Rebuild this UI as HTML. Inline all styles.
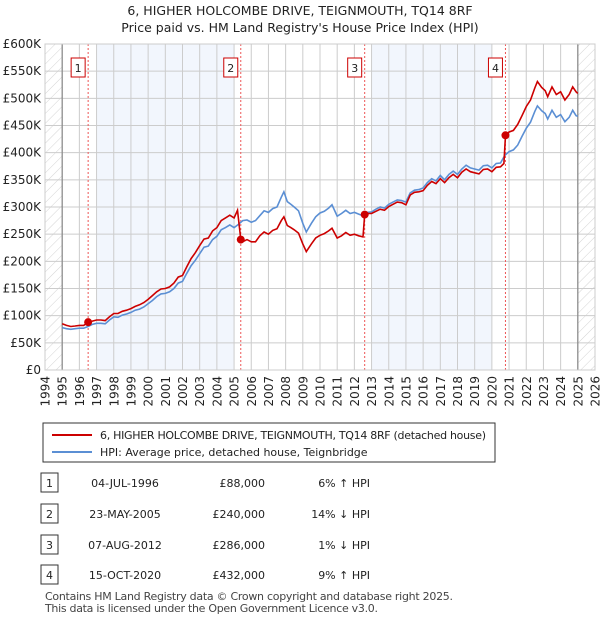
<!DOCTYPE html>
<html><head><meta charset="utf-8"><style>
body{margin:0;background:#fff;font-family:"DejaVu Sans","Liberation Sans",sans-serif;}
#wrap{position:relative;width:600px;height:620px;overflow:hidden;}
</style></head><body>
<div id="wrap">
<svg id="chart" width="600" height="620" viewBox="0 0 600 620" font-family="DejaVu Sans, Liberation Sans, sans-serif">
<defs><pattern id="hatch" width="7" height="7" patternUnits="userSpaceOnUse" patternTransform="rotate(45)"><line x1="0" y1="0" x2="0" y2="7" stroke="#d4d4d4" stroke-width="1"/></pattern></defs>
<text x="300" y="15" text-anchor="middle" font-size="12.5" fill="#222">6, HIGHER HOLCOMBE DRIVE, TEIGNMOUTH, TQ14 8RF</text>
<text x="300" y="32" text-anchor="middle" font-size="12.5" fill="#222">Price paid vs. HM Land Registry's House Price Index (HPI)</text>
<g id="plot"></g>
<rect x="43" y="423" width="452" height="39" fill="#fff" stroke="#333"/>
<line x1="52" y1="435" x2="92" y2="435" stroke="#cc0000" stroke-width="2"/>
<text x="100" y="439" font-size="11" fill="#222" textLength="386">6, HIGHER HOLCOMBE DRIVE, TEIGNMOUTH, TQ14 8RF (detached house)</text>
<line x1="52" y1="452" x2="92" y2="452" stroke="#5b8fd4" stroke-width="2"/>
<text x="100" y="456" font-size="11" fill="#222">HPI: Average price, detached house, Teignbridge</text>
<g id="table"></g>
<text x="45" y="600" font-size="11" fill="#444" textLength="408">Contains HM Land Registry data © Crown copyright and database right 2025.</text>
<text x="45" y="612" font-size="11" fill="#444" textLength="333">This data is licensed under the Open Government Licence v3.0.</text>
</svg>
</div>
<script>
const hpiYears=[1995.0,1995.25,1995.5,1995.75,1996.0,1996.25,1996.5,1996.75,1997.0,1997.25,1997.5,1997.75,1998.0,1998.25,1998.5,1998.75,1999.0,1999.25,1999.5,1999.75,2000.0,2000.25,2000.5,2000.75,2001.0,2001.25,2001.5,2001.75,2002.0,2002.25,2002.5,2002.75,2003.0,2003.25,2003.5,2003.75,2004.0,2004.25,2004.5,2004.75,2005.0,2005.25,2005.5,2005.75,2006.0,2006.25,2006.5,2006.75,2007.0,2007.25,2007.5,2007.75,2007.9,2008.1,2008.3,2008.5,2008.75,2009.0,2009.2,2009.5,2009.75,2010.0,2010.25,2010.5,2010.7,2011.0,2011.25,2011.5,2011.75,2012.0,2012.25,2012.5,2012.75,2013.0,2013.25,2013.5,2013.75,2014.0,2014.25,2014.5,2014.75,2015.0,2015.25,2015.5,2015.75,2016.0,2016.25,2016.5,2016.75,2017.0,2017.25,2017.5,2017.75,2018.0,2018.25,2018.5,2018.75,2019.0,2019.25,2019.5,2019.75,2020.0,2020.25,2020.5,2020.75,2021.0,2021.25,2021.5,2021.75,2022.0,2022.25,2022.5,2022.65,2022.9,2023.1,2023.25,2023.5,2023.75,2024.0,2024.25,2024.5,2024.7,2024.9,2025.0];
const hpiValues=[78,76,75,76,77,77,80,84,86,86,85,92,98,97,101,103,106,110,112,116,122,128,135,140,141,144,150,160,163,178,192,202,214,226,228,240,246,258,262,267,262,268,275,276,272,275,284,293,290,297,300,318,328,310,305,300,293,270,254,270,282,289,292,298,304,283,288,294,288,290,287,284,290,291,296,300,298,305,309,313,312,309,326,331,332,335,345,352,348,358,350,360,366,360,370,377,372,370,368,376,377,372,380,381,395,402,405,414,430,445,456,476,486,477,472,462,478,465,470,457,465,478,468,467];
const priceYears=[1995.0,1995.25,1995.5,1995.75,1996.0,1996.25,1996.5,1996.75,1997.0,1997.25,1997.5,1997.75,1998.0,1998.25,1998.5,1998.75,1999.0,1999.25,1999.5,1999.75,2000.0,2000.25,2000.5,2000.75,2001.0,2001.25,2001.5,2001.75,2002.0,2002.25,2002.5,2002.75,2003.0,2003.25,2003.5,2003.75,2004.0,2004.25,2004.5,2004.75,2005.0,2005.2,2005.39,2005.5,2005.75,2006.0,2006.25,2006.5,2006.75,2007.0,2007.25,2007.5,2007.75,2007.9,2008.1,2008.3,2008.5,2008.75,2009.0,2009.2,2009.5,2009.75,2010.0,2010.25,2010.5,2010.7,2011.0,2011.25,2011.5,2011.75,2012.0,2012.25,2012.5,2012.6,2012.75,2013.0,2013.25,2013.5,2013.75,2014.0,2014.25,2014.5,2014.75,2015.0,2015.25,2015.5,2015.75,2016.0,2016.25,2016.5,2016.75,2017.0,2017.25,2017.5,2017.75,2018.0,2018.25,2018.5,2018.75,2019.0,2019.25,2019.5,2019.75,2020.0,2020.25,2020.5,2020.7,2020.79,2021.0,2021.25,2021.5,2021.75,2022.0,2022.25,2022.5,2022.65,2022.9,2023.1,2023.25,2023.5,2023.75,2024.0,2024.25,2024.5,2024.7,2024.9,2025.0];
const priceValues=[85,82,80,81,82,82,88,90,92,92,91,98,104,104,108,110,113,117,120,124,130,137,144,149,150,153,160,171,174,190,205,216,229,241,243,256,262,275,280,285,280,294,240,236,240,236,236,247,254,250,257,260,275,282,266,262,258,252,232,218,232,243,248,251,256,261,243,247,253,248,250,247,245,286,288,288,292,296,294,301,305,309,308,304,322,327,328,330,340,347,343,352,345,354,360,354,364,370,365,363,361,369,370,365,373,374,380,432,438,441,452,468,485,497,519,531,520,514,503,521,507,512,497,507,521,512,509];
const saleLabels=["1","2","3","4"];
const saleYears=[1996.51,2005.39,2012.6,2020.79];
const salePrices=[88,240,286,432];
const saleDates=["04-JUL-1996","23-MAY-2005","07-AUG-2012","15-OCT-2020"];
const salePriceText=["£88,000","£240,000","£286,000","£432,000"];
const saleHpiText=["6% ↑ HPI","14% ↓ HPI","1% ↓ HPI","9% ↑ HPI"];
const yTicks=[0,50,100,150,200,250,300,350,400,450,500,550,600];
const yTickLabels=["£0","£50K","£100K","£150K","£200K","£250K","£300K","£350K","£400K","£450K","£500K","£550K","£600K"];
const shadeBands=[[1997,2005],[2013,2020]];

const X0=45,X1=595,Y0=370,Y1=44,YMIN=1994,YMAX=2026;
const xs=y=>X0+(y-YMIN)/(YMAX-YMIN)*(X1-X0);
const ys=v=>Y0-v/600*(Y0-Y1);
const NS="http://www.w3.org/2000/svg";
const plot=document.getElementById('plot');
function mk(tag,attrs,parent){const e=document.createElementNS(NS,tag);for(const k in attrs)e.setAttribute(k,attrs[k]);(parent||plot).appendChild(e);return e;}

let r=mk('rect',{x:X0,y:Y1,width:X1-X0,height:Y0-Y1,fill:'#fff'});


shadeBands.forEach(b=>{
  const e=mk('rect',{x:xs(b[0]),y:Y1,width:xs(b[1])-xs(b[0]),height:Y0-Y1,fill:'#f2f6fd'});
  
  
});
let h1=mk('rect',{x:X0,y:Y1,width:xs(1995)-X0,height:Y0-Y1,fill:'url(#hatch)'});


let h2=mk('rect',{x:xs(2025),y:Y1,width:X1-xs(2025),height:Y0-Y1,fill:'url(#hatch)'});


for(let y=YMIN;y<=YMAX;y++){
  const g=mk('line',{x1:xs(y),x2:xs(y),y1:Y1,y2:Y0,stroke:'#ccc','stroke-width':1});
  
  
  const t=mk('text',{x:0,y:0,transform:`translate(${xs(y)+4.5},${Y0+6}) rotate(-90)`,'text-anchor':'end','font-size':12,fill:'#222'});
  t.textContent=y;
  
  
}
yTicks.forEach((v,i)=>{
  const g=mk('line',{x1:X0,x2:X1,y1:ys(v),y2:ys(v),stroke:'#ccc','stroke-width':1});
  
  
  const t=mk('text',{x:41,y:ys(v)+4,'text-anchor':'end','font-size':12,fill:'#222'});
  t.textContent=yTickLabels[i];
  
  
});
[1995,2025].forEach(y=>{
  const e=mk('line',{x1:xs(y),x2:xs(y),y1:Y1,y2:Y0,stroke:'#888','stroke-width':1.2});
  
  
});
saleYears.forEach((y,i)=>{
  const l=mk('line',{x1:xs(y),x2:xs(y),y1:Y1,y2:Y0,stroke:'#e55','stroke-width':1,'stroke-dasharray':'2,2'});
  
  
  const b=mk('rect',{x:xs(y)-17,y:58,width:14,height:19,fill:'#fff',stroke:'#cc0000'});
  
  
  const t=mk('text',{x:xs(y)-10,y:72,'text-anchor':'middle','font-size':11,fill:'#222'});
  t.textContent=saleLabels[i];
  
  
});
function path(xa,va){return xa.map((y,i)=>(i?'L':'M')+xs(y).toFixed(1)+','+ys(va[i]).toFixed(1)).join('');}
let hp=mk('path',{d:path(hpiYears,hpiValues),fill:'none',stroke:'#5b8fd4','stroke-width':1.6});


let pp=mk('path',{d:path(priceYears,priceValues),fill:'none',stroke:'#cc0000','stroke-width':1.6});


saleYears.forEach((y,i)=>{
  const c=mk('circle',{cx:xs(y),cy:ys(salePrices[i]),r:4,fill:'#cc0000'});
  
  
});
let bd=mk('rect',{x:X0,y:Y1,width:X1-X0,height:Y0-Y1,fill:'none',stroke:'#ccc'});



const tb=document.getElementById('table');
const rowY=[483,514,545,575];
saleLabels.forEach((s,i)=>{
  const y=rowY[i];
  const b=mk('rect',{x:41,y:y-10,width:17,height:19,fill:'#fff',stroke:'#333'},tb);
  
  
  const cells=[[s,49.5,'middle'],[saleDates[i],125,'middle'],[salePriceText[i],265,'end'],[saleHpiText[i],370,'end']];
  cells.forEach(c=>{
    const t=mk('text',{x:c[1],y:y+4,'text-anchor':c[2],'font-size':11,fill:'#222'},tb);
    t.textContent=c[0];
    
    
  });
});
</script>
</body></html>
